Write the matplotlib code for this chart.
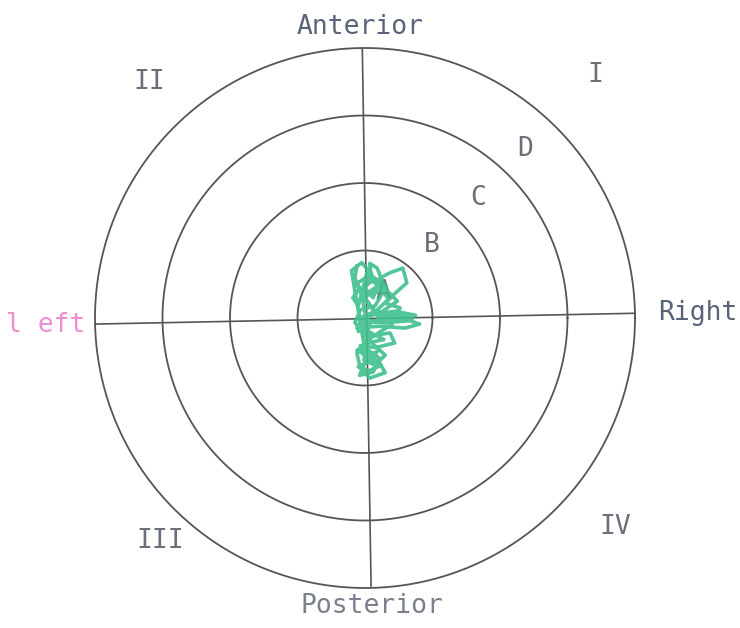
import matplotlib.pyplot as plt
import numpy as np

# ring radii (one unit = one ring step)
radii = [1, 2, 3, 4]

# cross lines, slightly skewed as in the original scan
vline_x = [-0.04, 0.09]
vline_y = [4.0, -3.97]
hline_x = [-4.0, 4.0]
hline_y = [-0.09, 0.07]

# sway trace of the centre of pressure
sway_x = [-0.12, -0.15, -0.08, -0.18, -0.10, 0.03, 0.00, 0.12, 0.22, 0.37, 0.56, 0.62,
          0.45, 0.30, 0.52, 0.41, 0.15, -0.07, 0.30, 0.66, 0.81, 0.59, 0.22, -0.12,
          0.07, 0.37, 0.44, 0.15, -0.07, 0.00, 0.22, 0.30, 0.07, -0.07, -0.12, 0.04,
          -0.15, -0.07, 0.15, 0.30, 0.18, 0.07, 0.10, 0.33, 0.48, 0.26, 0.04, -0.10,
          0.12, 0.40, 0.70, 0.52, 0.20, 0.00, 0.25, 0.10, -0.05, 0.08, 0.30, 0.15,
          -0.02, 0.05, 0.22, 0.12, -0.08, 0.02, -0.20, -0.05, 0.10, -0.14, 0.02, 0.20,
          0.35, 0.16, -0.04, 0.12, 0.50, 0.75, 0.45, 0.10, -0.10, 0.05, 0.28, 0.08,
          -0.12, 0.02, 0.18, 0.04, -0.10, 0.06, 0.24, 0.10, -0.04, 0.08, 0.26, 0.40,
          0.20, 0.05, -0.08, 0.14, 0.32, 0.10]
sway_y = [0.77, 0.59, 0.44, 0.30, 0.18, 0.67, 0.44, 0.30, 0.59, 0.67, 0.74, 0.52,
          0.37, 0.22, 0.15, 0.00, 0.07, -0.03, -0.07, -0.04, -0.09, -0.15, -0.12, -0.15,
          -0.27, -0.22, -0.37, -0.44, -0.41, -0.59, -0.67, -0.81, -0.89, -0.74, -0.52, -0.30,
          -0.07, 0.12, 0.18, 0.44, 0.74, 0.81, 0.55, 0.40, 0.25, 0.10, 0.02, -0.20,
          -0.05, 0.05, -0.02, 0.08, 0.00, 0.30, 0.52, 0.62, 0.35, -0.35, -0.55, -0.70,
          -0.62, -0.48, -0.60, -0.80, -0.85, -0.60, 0.70, 0.82, 0.65, 0.50, 0.36, 0.48,
          0.28, 0.10, 0.02, -0.06, -0.02, 0.04, 0.10, 0.05, -0.10, -0.20, -0.32, -0.36,
          -0.48, -0.55, -0.50, -0.66, -0.72, -0.78, -0.70, -0.58, -0.45, -0.30, -0.18, -0.10,
          0.04, 0.22, 0.40, 0.58, 0.46, 0.34]

dir_labels = ["Anterior", "Posterior", "l eft", "Right"]
dir_pos = [(-0.07, 4.31), (0.10, -4.27), (-4.73, -0.10), (4.93, 0.07)]
dir_colors = ["#5a6478", "#7a808c", "#ee8fd2", "#5a6478"]

quad_labels = ["I", "II", "III", "IV"]
quad_pos = [(3.41, 3.60), (-3.19, 3.50), (-3.04, -3.30), (3.70, -3.10)]

ring_labels = ["A", "B", "C", "D"]
ring_pos = [(0.27, 0.39), (0.99, 1.08), (1.67, 1.78), (2.37, 2.50)]

step = 67.5
fig = plt.figure(figsize=(7.4, 6.28), dpi=100)
ax = fig.add_axes([0, 0, 1, 1])
ax.set_xlim(-365 / step, (740 - 365) / step)
ax.set_ylim(-(628 - 318) / step, 318 / step)
ax.set_aspect("equal")
ax.axis("off")

t = np.linspace(0, 2 * np.pi, 400)
for r in radii:
    ax.plot(r * np.cos(t), r * np.sin(t), color="#555555", lw=1.3)
ax.plot(vline_x, vline_y, color="#555555", lw=1.2)
ax.plot(hline_x, hline_y, color="#555555", lw=1.2)

ax.plot(sway_x, sway_y, color="#3fbf8e", lw=2.6, alpha=0.9, zorder=3)

for s, (x, y), c in zip(dir_labels, dir_pos, dir_colors):
    ax.text(x, y, s, color=c, fontsize=19, family="DejaVu Sans Mono",
            ha="center", va="center")
for s, (x, y) in zip(quad_labels, quad_pos):
    ax.text(x, y, s, color="#6a6f7a", fontsize=19, family="DejaVu Sans Mono",
            ha="center", va="center")
for s, (x, y) in zip(ring_labels, ring_pos):
    ax.text(x, y, s, color="#6a6f7a", fontsize=19, family="DejaVu Sans Mono",
            ha="center", va="center", zorder=2)

fig.savefig("out.png", dpi=100)
